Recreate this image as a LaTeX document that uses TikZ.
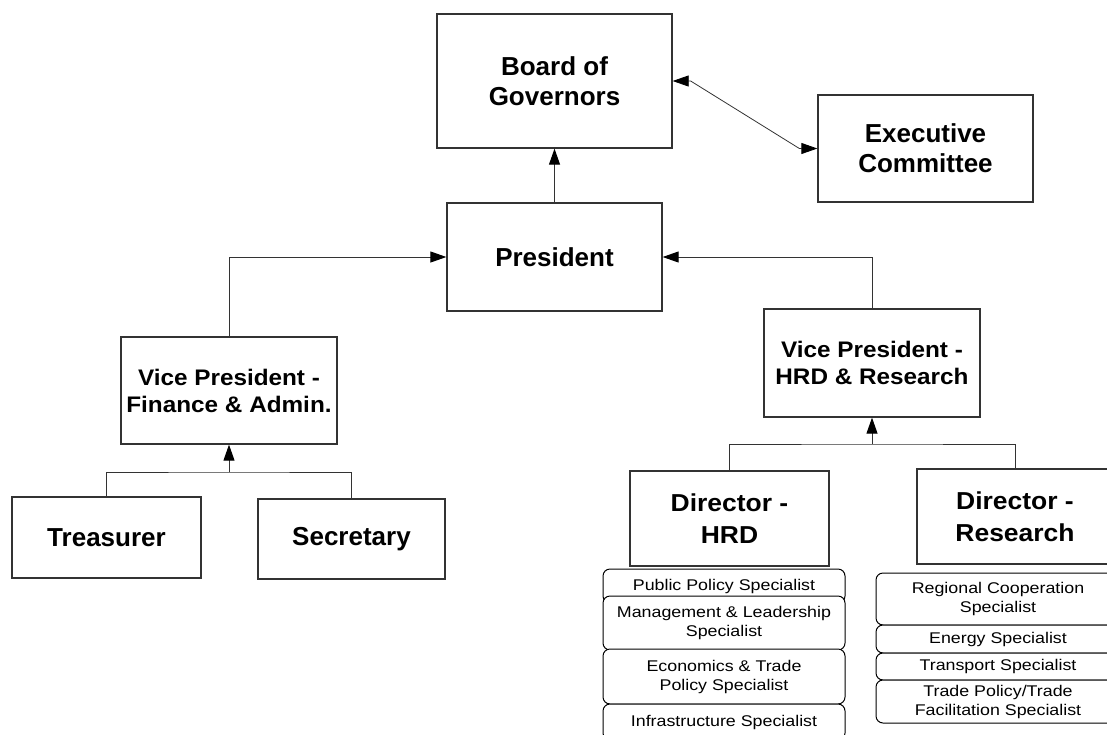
\documentclass[tikz,border=0pt]{standalone}
\usepackage{fontspec}
\setmainfont{Liberation Sans}
\newfontfamily\widefont{Liberation Sans}[FakeStretch=1.08]
\newfontfamily\specfont{Liberation Sans}[FakeStretch=1.15]
\usetikzlibrary{arrows.meta}
\begin{document}
\begin{tikzpicture}[x=1pt,y=-1pt,
  box/.style={draw=black!80, line width=1.3pt, fill=white, inner sep=0pt, align=center,
    font=\bfseries\fontsize{26}{30}\selectfont},
  vpbox/.style={box, font=\widefont\bfseries\fontsize{22.5}{27}\selectfont},
  dirbox/.style={box, font=\widefont\bfseries\fontsize{24.5}{32}\selectfont},
  spec/.style={draw=black, line width=1pt, rounded corners=7pt, fill=white, inner sep=0pt,
    align=center, font=\specfont\fontsize{15.5}{19}\selectfont},
  conn/.style={draw=black!80, line width=1pt},
  arr/.style={conn, -{Triangle[length=16pt,width=11pt,color=black,fill=black]}},
  dblarr/.style={conn, line width=0.8pt,
    {Triangle[length=16pt,width=11pt,color=black,fill=black]}-{Triangle[length=16pt,width=11pt,color=black,fill=black]}},
]
\useasboundingbox (0,0) rectangle (1107,734);
\clip (0,0) rectangle (1107,734);

% top level
\node[box, minimum width=235pt, minimum height=134pt] (bog) at (554.5,81) {Board of\\Governors};
\node[box, minimum width=215pt, minimum height=107pt] (exec) at (925.5,148.5) {Executive\\Committee};
\node[box, minimum width=215pt, minimum height=108pt] (pres) at (554.5,257) {President};

% vice presidents
\node[vpbox, minimum width=216pt, minimum height=107pt] (vpf) at (229,390.5) {Vice President -\\Finance \& Admin.};
\node[vpbox, minimum width=216pt, minimum height=108pt] (vph) at (872,363) {Vice President -\\HRD \& Research};

% finance subordinates
\node[box, minimum width=189pt, minimum height=81pt] (tre) at (106.5,537.5) {Treasurer};
\node[box, minimum width=187pt, minimum height=80pt] (sec) at (351.5,539) {Secretary};

% directors
\node[dirbox, minimum width=199pt, minimum height=95pt] (dh) at (729.5,518.5) {Director -\\HRD};
\node[dirbox, minimum width=196pt, minimum height=95pt] (dr) at (1015,516.5) {Director -\\Research};

% HRD specialists
\node[spec, minimum width=242pt, minimum height=34pt] (hA) at (724,586) {Public Policy Specialist};
\node[spec, minimum width=242pt, minimum height=54pt] (hB) at (724,623) {Management \& Leadership\\Specialist};
\node[spec, minimum width=242pt, minimum height=55pt] (hC) at (724,676.5) {Economics \& Trade\\Policy Specialist};
\node[spec, minimum width=242pt, minimum height=36pt] (hD) at (724,722) {Infrastructure Specialist};

% Research specialists
\node[spec, minimum width=244pt, minimum height=52pt] (rA) at (998,599) {Regional Cooperation\\Specialist};
\node[spec, minimum width=244pt, minimum height=28pt] (rB) at (998,639) {Energy Specialist};
\node[spec, minimum width=244pt, minimum height=27pt] (rC) at (998,666.5) {Transport Specialist};
\node[spec, minimum width=244pt, minimum height=43pt] (rD) at (998,701.5) {Trade Policy/Trade\\Facilitation Specialist};

% connectors
\draw[arr] (pres.north) -- (bog.south);
\draw[dblarr] (bog.east) -- ++(18,0) -- ([xshift=-18pt]exec.west) -- (exec.west);
\draw[arr] (vpf.north) |- (pres.west);
\draw[arr] (vph.north) |- (pres.east);

\coordinate (j1) at (229,472);
\draw[conn] (tre.north) |- (j1) -| (sec.north);
\draw[arr] (j1) -- (vpf.south);

\coordinate (j2) at (872,444);
\draw[conn] (dh.north) |- (j2) -| (dr.north);
\draw[arr] (j2) -- (vph.south);
\end{tikzpicture}
\end{document}
